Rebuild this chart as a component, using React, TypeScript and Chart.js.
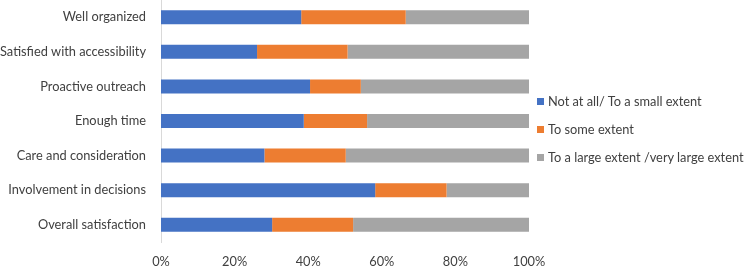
import React, { useEffect, useRef } from "react";
import { Chart, registerables } from "chart.js";

Chart.register(...registerables);

const categories = [
  "Well organized",
  "Satisfied with accessibility",
  "Proactive outreach",
  "Enough time",
  "Care and consideration",
  "Involvement in decisions",
  "Overall satisfaction",
];
const seriesNames = [
  "Not at all/ To a small extent",
  "To some extent",
  "To a large extent /very large extent",
];
const notAtAll = [38.1, 26.1, 40.5, 38.8, 28.1, 58.2, 30.2];
const someExtent = [28.4, 24.6, 13.8, 17.2, 22.1, 19.4, 22.0];
const largeExtent = [33.5, 49.3, 45.7, 44.0, 49.8, 22.4, 47.8];
const seriesValues = [notAtAll, someExtent, largeExtent];
const colors = ["#4472C4", "#ED7D31", "#A5A5A5"];

const FONT = "Lato, 'Open Sans', sans-serif";
const TEXT = "#404040";
const FS = 12.8;

export default function App() {
  const ref = useRef<HTMLCanvasElement | null>(null);

  useEffect(() => {
    if (!ref.current) return;
    const chart = new Chart(ref.current, {
      type: "bar",
      data: {
        labels: categories,
        datasets: seriesNames.map((name, i) => ({
          label: name,
          data: seriesValues[i],
          backgroundColor: colors[i],
          borderWidth: 0,
          barPercentage: 0.5,
          categoryPercentage: 0.81,
        })),
      },
      options: {
        indexAxis: "y",
        responsive: false,
        animation: false,
        devicePixelRatio: 1,
        layout: { padding: { left: 0, right: 215, top: 0, bottom: 0 } },
        plugins: {
          legend: { display: false },
          tooltip: { enabled: false },
        },
        scales: {
          x: {
            stacked: true,
            min: 0,
            max: 100,
            grid: { display: false, drawTicks: false },
            border: { display: false },
            ticks: {
              stepSize: 20,
              callback: (v: any) => v + "%",
              color: TEXT,
              font: { family: FONT, size: FS },
              padding: 12,
              maxRotation: 0,
            },
            afterFit: (s: any) => {
              s.height = 24;
              s.paddingLeft = 0;
              s.paddingRight = 0;
            },
          },
          y: {
            stacked: true,
            grid: { display: false, drawTicks: false },
            border: { display: true, color: "#d9d9d9", width: 1 },
            ticks: {
              color: TEXT,
              font: { family: FONT, size: FS },
              padding: 15,
              autoSkip: false,
            },
            afterFit: (s: any) => {
              s.width = 161;
              s.paddingTop = 0;
              s.paddingBottom = 0;
            },
          },
        },
      },
    });
    return () => chart.destroy();
  }, []);

  return (
    <div style={{ position: "fixed", left: 0, top: 0, width: 744, height: 266, background: "#fff" }}>
      <canvas ref={ref} width={744} height={266} style={{ display: "block" }} />
      <div style={{ position: "absolute", left: 537, top: 87, fontFamily: FONT, fontSize: FS, color: TEXT }}>
        {seriesNames.map((name, i) => (
          <div key={name} style={{ height: 28, display: "flex", alignItems: "center", whiteSpace: "nowrap" }}>
            <span style={{ display: "inline-block", width: 7, height: 7, background: colors[i], marginRight: 4 }} />
            <span>{name}</span>
          </div>
        ))}
      </div>
    </div>
  );
}
